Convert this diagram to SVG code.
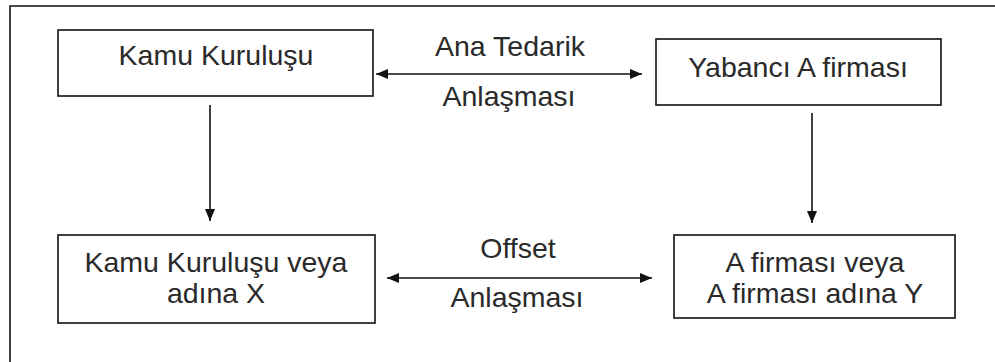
<svg xmlns="http://www.w3.org/2000/svg" width="995" height="362" viewBox="0 0 995 362">
<style>
.box{fill:#fff;stroke:#111;stroke-width:1.6}
.t{font-family:"Liberation Sans",Arial,sans-serif;font-size:28.5px;fill:#2a2a2a;text-anchor:middle}
.c{stroke:#111;stroke-width:1.6;fill:none}
</style>
<defs>
<marker id="ah" viewBox="0 0 12 10" refX="12" refY="5" markerWidth="12" markerHeight="10" markerUnits="userSpaceOnUse" orient="auto-start-reverse">
<path d="M0,0 L12,5 L0,10 Z" fill="#111"/>
</marker>
</defs>
<rect width="995" height="362" fill="#fff"/>
<path d="M10,370 V6 H1000" fill="none" stroke="#111" stroke-width="1.6"/>
<g id="n1">
<rect class="box" x="58" y="30" width="315" height="66"/>
<text class="t" x="216" y="65">Kamu Kuruluşu</text>
</g>
<g id="n2">
<rect class="box" x="656" y="39" width="285" height="66"/>
<text class="t" x="798" y="77">Yabancı A firması</text>
</g>
<g id="n3">
<rect class="box" x="58" y="235" width="317" height="88"/>
<text class="t" x="216" y="272">Kamu Kuruluşu veya</text>
<text class="t" x="216" y="303">adına X</text>
</g>
<g id="n4">
<rect class="box" x="674" y="235" width="281" height="83"/>
<text class="t" x="815" y="272">A firması veya</text>
<text class="t" x="815" y="303">A firması adına Y</text>
</g>
<g id="connectors">
<line class="c" x1="376" y1="74" x2="642" y2="74" marker-start="url(#ah)" marker-end="url(#ah)"/>
<line class="c" x1="387" y1="278" x2="652" y2="278" marker-start="url(#ah)" marker-end="url(#ah)"/>
<line class="c" x1="210" y1="105" x2="210" y2="221" marker-end="url(#ah)"/>
<line class="c" x1="812" y1="113" x2="812" y2="223" marker-end="url(#ah)"/>
<text class="t" x="510" y="56">Ana Tedarik</text>
<text class="t" x="509" y="106">Anlaşması</text>
<text class="t" x="518" y="258">Offset</text>
<text class="t" x="517" y="307">Anlaşması</text>
</g>
</svg>
